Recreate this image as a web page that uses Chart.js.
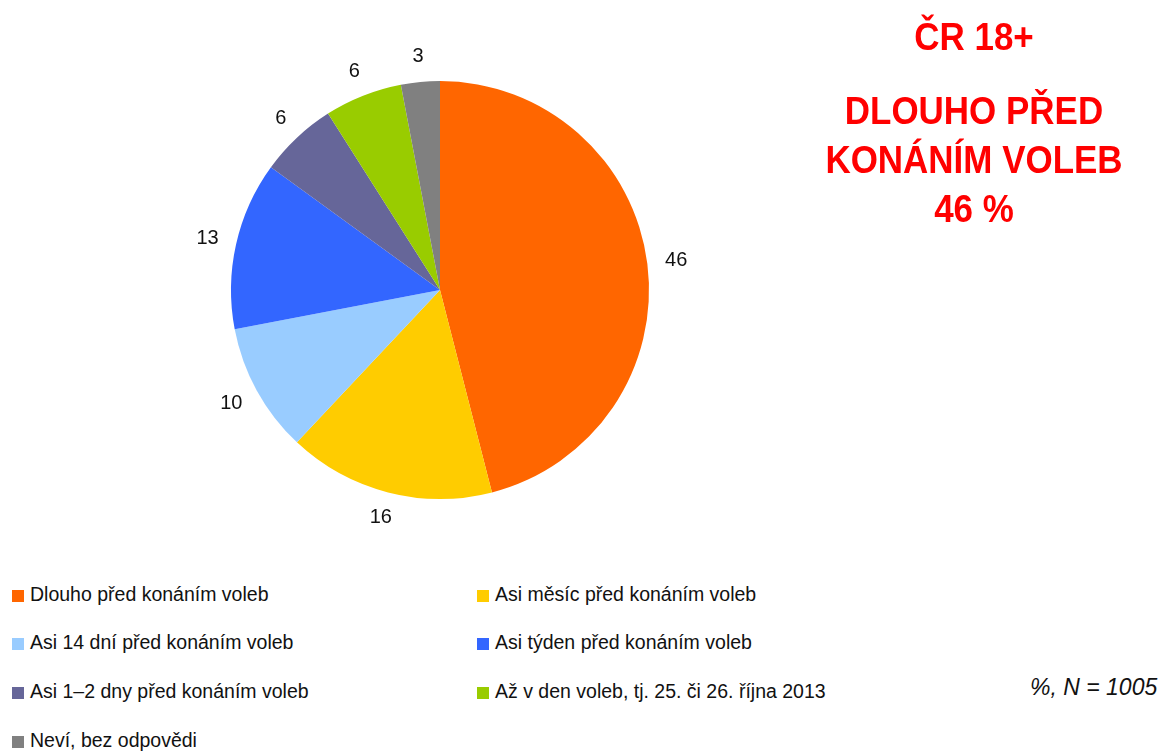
<!DOCTYPE html>
<html>
<head>
<meta charset="utf-8">
<script src="https://cdn.jsdelivr.net/npm/chart.js@4"></script>
<style>
  body { margin: 0; width: 1165px; height: 751px; background: #fff; position: relative; overflow: hidden; font-family: "Liberation Sans", Arial, sans-serif; }
  #pieBox { position: absolute; left: 0; top: 0; width: 880px; height: 580px; }
  .title { position: absolute; left: 774px; width: 400px; text-align: center; color: #ff0000; font-weight: bold; font-size: 38px; line-height: 49px; transform: scaleX(0.92); transform-origin: 200px 0; }
  .legend-item { position: absolute; font-size: 19.5px; line-height: 22px; color: #111; white-space: nowrap; }
  .legend-item span.box { display: inline-block; width: 12px; height: 12px; margin-right: 6px; vertical-align: -1px; }
  #note { position: absolute; left: 1030px; top: 674px; font-size: 23px; font-style: italic; color: #111; }
</style>
</head>
<body>
<div id="pieBox"><canvas id="pieChart"></canvas></div>
<div class="title" style="top: 13px;">ČR 18+</div>
<div class="title" style="top: 87px;">DLOUHO PŘED<br>KONÁNÍM VOLEB<br>46 %</div>
<div id="legend"></div>
<div id="note">%, N = 1005</div>

<script>
const categories = [
  "Dlouho před konáním voleb",
  "Asi měsíc před konáním voleb",
  "Asi 14 dní před konáním voleb",
  "Asi týden před konáním voleb",
  "Asi 1–2 dny před konáním voleb",
  "Až v den voleb, tj. 25. či 26. října 2013",
  "Neví, bez odpovědi"
];
const values = [46, 16, 10, 13, 6, 6, 3];
const colors = ["#ff6600", "#ffcc00", "#99ccff", "#3366ff", "#666699", "#99cc00", "#808080"];

// labels outside the slices, box touching a point just beyond the rim
const outsideLabels = {
  id: "outsideLabels",
  afterDatasetsDraw(chart) {
    const { ctx } = chart;
    const meta = chart.getDatasetMeta(0);
    ctx.save();
    ctx.font = "20px 'Liberation Sans', Arial, sans-serif";
    ctx.fillStyle = "#111";
    ctx.textAlign = "center";
    ctx.textBaseline = "middle";
    meta.data.forEach((arc, i) => {
      const mid = (arc.startAngle + arc.endAngle) / 2;
      const r = arc.outerRadius + 18;
      const text = String(values[i]);
      const halfW = ctx.measureText(text).width / 2;
      const x = arc.x + Math.cos(mid) * (r + halfW);
      const y = arc.y + Math.sin(mid) * (r + 8);
      ctx.fillText(text, x, y);
    });
    ctx.restore();
  }
};

new Chart(document.getElementById("pieChart"), {
  type: "pie",
  data: {
    labels: categories,
    datasets: [{
      data: values,
      backgroundColor: colors,
      borderWidth: 0
    }]
  },
  options: {
    responsive: true,
    maintainAspectRatio: false,
    animation: false,
    layout: { padding: { left: 231, right: 231, top: 81, bottom: 81 } },
    plugins: {
      legend: { display: false },
      tooltip: { enabled: false }
    }
  },
  plugins: [outsideLabels]
});

// two-column legend
const legend = document.getElementById("legend");
const colX = [12, 477];
const rowY = [583, 631, 680, 729];
categories.forEach((name, i) => {
  const item = document.createElement("div");
  item.className = "legend-item";
  item.style.left = colX[i % 2] + "px";
  item.style.top = rowY[Math.floor(i / 2)] + "px";
  item.innerHTML = `<span class="box" style="background:${colors[i]}"></span>${name}`;
  legend.appendChild(item);
});
</script>
</body>
</html>
